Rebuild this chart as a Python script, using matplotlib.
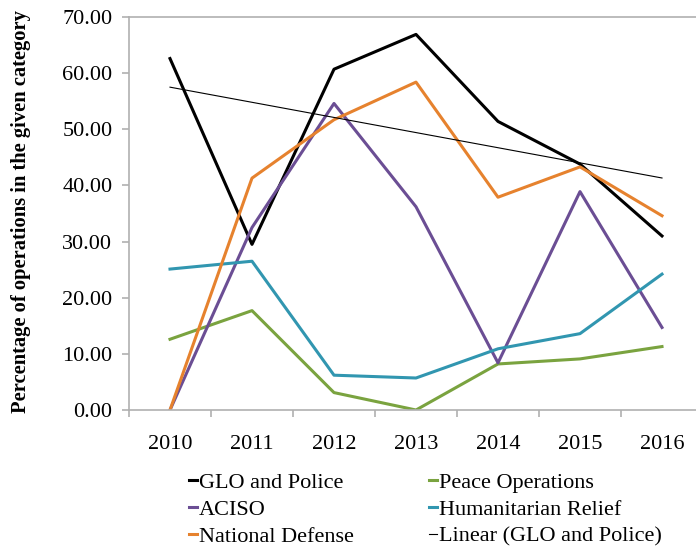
import numpy as np
import matplotlib.pyplot as plt
from matplotlib.ticker import FormatStrFormatter

# values
years = ["2010", "2011", "2012", "2013", "2014", "2015", "2016"]
glo_police = [62.6, 29.5, 60.7, 66.9, 51.4, 43.8, 31.0]
peace_ops = [12.6, 17.7, 3.1, 0.0, 8.2, 9.1, 11.3]
aciso = [0.0, 32.5, 54.6, 36.2, 8.4, 38.9, 14.7]
humanitarian = [25.1, 26.5, 6.2, 5.7, 10.9, 13.6, 24.2]
national_defense = [0.0, 41.3, 51.7, 58.4, 37.9, 43.3, 34.6]

plt.rcParams['font.family'] = ['Liberation Serif', 'DejaVu Serif']

fig = plt.figure(figsize=(6.96, 5.5), dpi=100)
ax = fig.add_axes([129 / 696, 1 - 410 / 550, 574 / 696, 393 / 550])

x = np.arange(len(years))
lw = 2.2
ax.plot(x, glo_police, color='black', lw=lw, label='GLO and Police')
ax.plot(x, peace_ops, color='#7AA33F', lw=lw, label='Peace Operations')
ax.plot(x, aciso, color='#6B4E94', lw=lw, label='ACISO')
ax.plot(x, humanitarian, color='#3196B0', lw=lw, label='Humanitarian Relief')
ax.plot(x, national_defense, color='#E6822E', lw=lw, label='National Defense')

# linear trend of GLO and Police
coef = np.polyfit(x, glo_police, 1)
ax.plot(x, np.polyval(coef, x), color='black', lw=0.8, label='Linear (GLO and Police)')

ax.set_xlim(-0.5, len(years) - 0.5)
ax.set_ylim(0, 70)
ax.set_yticks(np.arange(0, 71, 10))
ax.yaxis.set_major_formatter(FormatStrFormatter('%.2f'))
ax.set_xticks(x)
ax.set_xticklabels(years)
ax.set_xticks(np.arange(-0.5, len(years), 1), minor=True)
ax.tick_params(axis='x', which='major', length=0, labelsize=16, pad=18)
ax.tick_params(axis='x', which='minor', length=5, width=1.2, color='#B0B0B0', direction='out')
ax.tick_params(axis='y', length=5, width=1.2, color='#B0B0B0', direction='out',
               labelsize=16, pad=7)

ax.spines['right'].set_visible(False)
for s in ['left', 'bottom', 'top']:
    ax.spines[s].set_color('#B0B0B0')
    ax.spines[s].set_linewidth(1.2)

fig.text(21 / 696, 1 - 212 / 550, 'Percentage of operations in the given category',
         rotation=90, ha='center', va='center', fontsize=14.8, fontweight='bold')

handles, labels = ax.get_legend_handles_labels()
order = [0, 2, 4, 1, 3, 5]
fig.legend([handles[i] for i in order], [labels[i] for i in order],
           loc='upper left', bbox_to_anchor=(189 / 696, 1 - 472 / 550), ncol=2,
           frameon=False, fontsize=16, handlelength=0.35, handletextpad=0.1,
           columnspacing=3.4, labelspacing=0.29, borderaxespad=0, borderpad=0)

fig.savefig('out.png', dpi=100)
